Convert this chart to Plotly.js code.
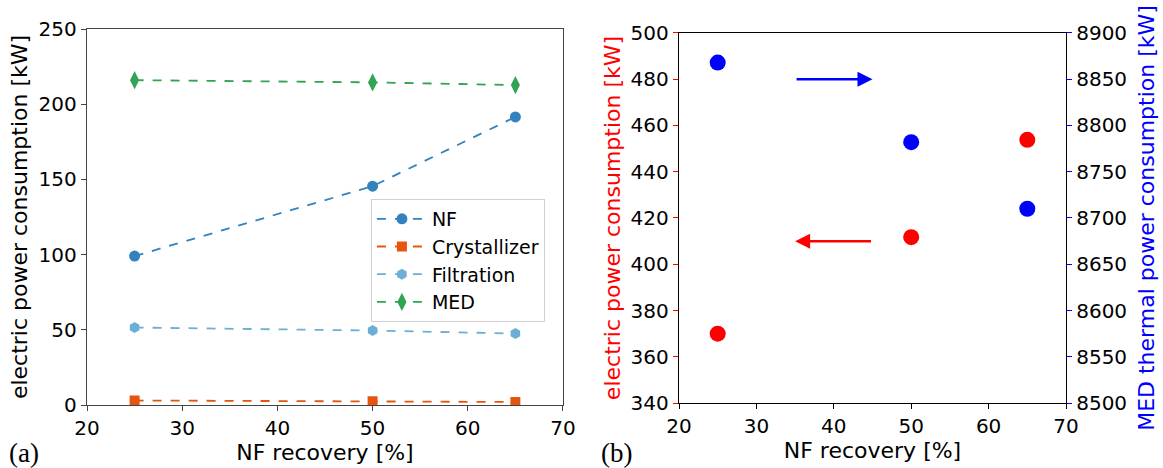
<!DOCTYPE html>
<html>
<head>
<meta charset="utf-8">
<script src="https://cdn.plot.ly/plotly-3.0.1.min.js"></script>
<style>html,body{margin:0;padding:0;background:#fff}</style>
</head>
<body>
<div id="chart" style="width:1163px;height:468px"></div>
<script>
// ---- data ----
const recovery = [25, 50, 65];
const nfPower = [99, 145.5, 191.5];
const crystallizerPower = [3, 2.5, 2];
const filtrationPower = [51.5, 49.5, 47.5];
const medPower = [216, 214.5, 212.7];

const electricTotal = [370, 411.7, 453.8];
const medThermal = [8868, 8782, 8710];

// arrow annotations (panel b): [from x, to x, y]
const blueArrow = {fromX: 35, toX: 45, y: 480};
const redArrow = {fromX: 45, toX: 35, y: 410};

const xTicks = [20, 30, 40, 50, 60, 70];

const FONT = 'DejaVu Sans, sans-serif';

function lineTrace(name, y, color, symbol, size) {
  return {
    x: recovery, y: y, name: name, type: 'scatter', mode: 'lines+markers',
    xaxis: 'x', yaxis: 'y',
    line: {color: color, width: 1.8, dash: 'dash'},
    marker: {color: color, symbol: symbol, size: size}
  };
}

const traces = [
  lineTrace('NF', nfPower, '#3182bd', 'circle', 11),
  lineTrace('Crystallizer', crystallizerPower, '#e6550d', 'square', 10),
  lineTrace('Filtration', filtrationPower, '#6baed6', 'hexagon', 11),
  lineTrace('MED', medPower, '#31a354', 'diamond-tall', 13),
  {x: recovery, y: electricTotal, type: 'scatter', mode: 'markers', showlegend: false,
   xaxis: 'x2', yaxis: 'y2', marker: {color: '#ff0000', size: 16}},
  {x: recovery, y: medThermal, type: 'scatter', mode: 'markers', showlegend: false,
   xaxis: 'x2', yaxis: 'y3', marker: {color: '#0000ff', size: 16}}
];

const tickFont = {family: FONT, size: 20, color: '#000'};
const titleFont = {family: FONT, size: 22, color: '#000'};

const layout = {
  width: 1163, height: 468,
  margin: {l: 87, r: 97, t: 29, b: 63},
  paper_bgcolor: '#fff', plot_bgcolor: '#fff',
  font: {family: FONT},
  showlegend: true,
  legend: {
    x: 0.290, y: 0.548, xanchor: 'left', yanchor: 'top',
    bgcolor: '#fff', bordercolor: '#d0d0d0', borderwidth: 1,
    font: {family: FONT, size: 19, color: '#000'},
    itemwidth: 50
  },
  xaxis: {
    domain: [0, 0.4862], range: [20, 70], tickvals: xTicks,
    showgrid: false, zeroline: false, showline: true, mirror: true,
    linecolor: '#444', linewidth: 1.2, ticks: 'outside', ticklen: 5, tickcolor: '#444',
    tickfont: tickFont, title: {text: 'NF recovery [%]', font: titleFont, standoff: 4}
  },
  yaxis: {
    domain: [0, 1], range: [0, 250], dtick: 50,
    showgrid: false, zeroline: false, showline: true, mirror: true,
    linecolor: '#444', linewidth: 1.2, ticks: 'outside', ticklen: 5, tickcolor: '#444',
    tickfont: tickFont, title: {text: 'electric power consumption [kW]', font: titleFont, standoff: 5}
  },
  xaxis2: {
    domain: [0.6047, 1], range: [20, 70], tickvals: xTicks, anchor: 'y2',
    showgrid: false, zeroline: false, showline: true, mirror: true,
    linecolor: '#000', linewidth: 1.2, ticks: 'outside', ticklen: 5, tickcolor: '#000',
    tickfont: tickFont, title: {text: 'NF recovery [%]', font: titleFont, standoff: 4}
  },
  yaxis2: {
    domain: [0.0053, 0.9894], range: [340, 500], dtick: 20, anchor: 'x2',
    showgrid: false, zeroline: false, showline: true,
    linecolor: '#000', linewidth: 1.2, ticks: 'outside', ticklen: 5, tickcolor: '#ff0000',
    tickfont: tickFont,
    title: {text: 'electric power consumption [kW]', font: {family: FONT, size: 22, color: '#ff0000'}, standoff: 4}
  },
  yaxis3: {
    range: [8500, 8900], dtick: 50, overlaying: 'y2', side: 'right', anchor: 'x2',
    showgrid: false, zeroline: false, showline: true,
    linecolor: '#000', linewidth: 1.2, ticks: 'outside', ticklen: 5, tickcolor: '#0000ff',
    tickfont: tickFont,
    title: {text: 'MED thermal power consumption [kW]', font: {family: FONT, size: 22, color: '#0000ff'}, standoff: 12}
  },
  annotations: [
    {xref: 'x2', yref: 'y2', axref: 'x2', ayref: 'y2',
     x: blueArrow.toX, y: blueArrow.y, ax: blueArrow.fromX, ay: blueArrow.y,
     showarrow: true, arrowhead: 2, arrowsize: 1.2, arrowwidth: 2.5, arrowcolor: '#0000ff', text: ''},
    {xref: 'x2', yref: 'y2', axref: 'x2', ayref: 'y2',
     x: redArrow.toX, y: redArrow.y, ax: redArrow.fromX, ay: redArrow.y,
     showarrow: true, arrowhead: 2, arrowsize: 1.2, arrowwidth: 2.5, arrowcolor: '#ff0000', text: ''},
    {xref: 'paper', yref: 'paper', x: -0.082, y: -0.128, xanchor: 'left', yanchor: 'middle',
     text: '(a)', showarrow: false, font: {family: 'Liberation Serif, serif', size: 27, color: '#000'}},
    {xref: 'paper', yref: 'paper', x: 0.523, y: -0.128, xanchor: 'left', yanchor: 'middle',
     text: '(b)', showarrow: false, font: {family: 'Liberation Serif, serif', size: 27, color: '#000'}}
  ]
};

Plotly.newPlot('chart', traces, layout, {displayModeBar: false, staticPlot: true});
</script>
</body>
</html>
